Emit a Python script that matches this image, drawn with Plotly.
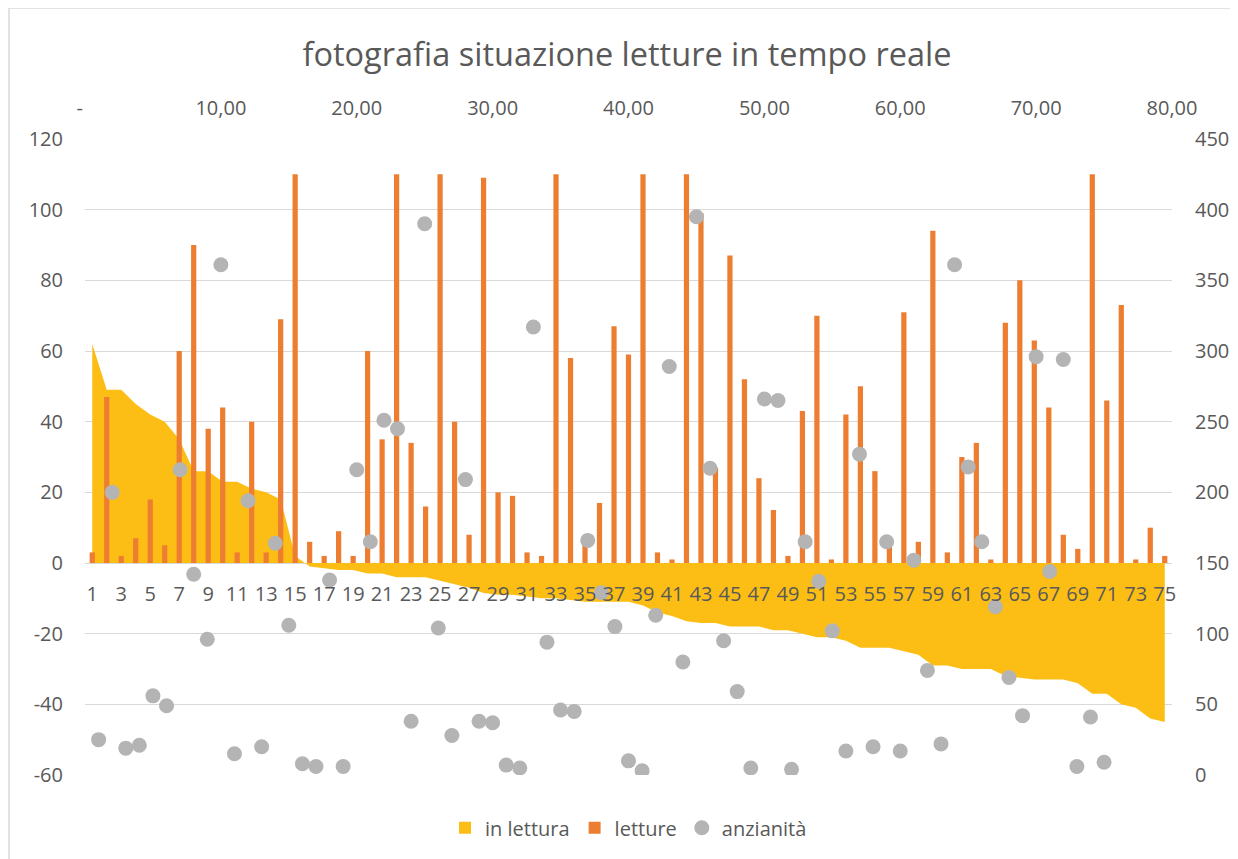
import plotly.graph_objects as go

categories = list(range(1, 76))

in_lettura = [62, 49, 49, 45, 42, 40, 35, 26, 26, 23, 23, 21, 20, 18, 2, -1, -1.5, -2, -2, -3,
              -3, -4, -4, -4, -5, -6, -7, -8.5, -9, -9, -9.5, -10, -10, -10.5, -11, -11, -11, -11, -12, -14,
              -15, -16.5, -17, -17, -18, -18, -18, -19, -19, -20, -21, -21, -22, -24, -24, -24, -25, -26, -29, -29,
              -30, -30, -30, -32, -32.5, -33, -33, -33, -34, -37, -37, -40, -41, -44, -45]

letture = [3, 47, 2, 7, 18, 5, 60, 90, 38, 44, 3, 40, 3, 69, 110, 6, 2, 9, 2, 60,
           35, 110, 34, 16, 110, 40, 8, 109, 20, 19, 3, 2, 110, 58, 6, 17, 67, 59, 110, 3,
           1, 110, 99, 27, 87, 52, 24, 15, 2, 43, 70, 1, 42, 50, 26, 6, 71, 6, 94, 3,
           30, 34, 1, 68, 80, 63, 44, 8, 4, 110, 46, 73, 1, 10, 2]

anz_x = list(range(1, 76))
anzianita = [25, 200, 19, 21, 56, 49, 216, 142, 96, 361, 15, 194, 20, 164, 106, 8, 6, 138, 6, 216,
             165, 251, 245, 38, 390, 104, 28, 209, 38, 37, 7, 5, 317, 94, 46, 45, 166, 129, 105, 10,
             3, 113, 289, 80, 395, 217, 95, 59, 5, 266, 265, 4, 165, 137, 102, 17, 227, 20, 165, 17,
             152, 74, 22, 361, 218, 165, 119, 69, 42, 296, 144, 294, 6, 41, 9]

cat_ticks = list(range(1, 76, 2))
top_ticks = [0, 10, 20, 30, 40, 50, 60, 70, 80]
top_labels = ["-\u00a0\u00a0", "10,00", "20,00", "30,00", "40,00", "50,00", "60,00", "70,00", "80,00"]
left_ticks = [-60, -40, -20, 0, 20, 40, 60, 80, 100, 120]
left_labels = ["-60", "-40", "-20", "0", "20", "40", "60", "80", "100", "120"]

FONT = "Open Sans"
GRAY = "#595959"
GRID = "#D9D9D9"
YELLOW = "#FCBE14"

fig = go.Figure()

# legend swatch for the area series (square, as in the original legend)
fig.add_trace(go.Bar(x=[None], y=[None], name="in lettura",
                     marker=dict(color=YELLOW, line=dict(width=0)),
                     xaxis="x", yaxis="y", showlegend=True))

fig.add_trace(go.Scatter(
    x=categories, y=in_lettura, name="in lettura", mode="lines",
    line=dict(width=0, color=YELLOW), fill="tozeroy", fillcolor=YELLOW,
    xaxis="x", yaxis="y", showlegend=False))

fig.add_trace(go.Bar(
    x=categories, y=letture, name="letture", width=0.36,
    marker=dict(color="#ED7D31", line=dict(width=0)),
    xaxis="x", yaxis="y2"))

fig.add_trace(go.Scatter(
    x=anz_x, y=anzianita, name="anzianità", mode="markers",
    marker=dict(size=15, color="#B4B4B4"),
    xaxis="x2", yaxis="y3"))

fig.update_layout(
    width=1238, height=859,
    margin=dict(l=77, r=74, t=131, b=92),
    paper_bgcolor="white", plot_bgcolor="white",
    font=dict(family=FONT, color=GRAY, size=20),
    title=dict(text="fotografia situazione letture in tempo reale",
               x=0.5, xanchor="center", y=1 - 47/859, yanchor="middle",
               font=dict(family=FONT, size=32.5, color=GRAY)),
    showlegend=True,
    barmode="overlay",
    legend=dict(orientation="h", x=0.5, xanchor="center", y=-0.083, yanchor="middle",
                font=dict(size=20, color=GRAY), traceorder="normal", itemwidth=30),
    xaxis=dict(range=[0.5, 75.5], tickmode="array", tickvals=cat_ticks,
               ticktext=[str(v) for v in cat_ticks],
               showgrid=False, zeroline=False, showline=False,
               anchor="free", position=1/3, ticks="", ticklabelstandoff=17,
               tickfont=dict(size=20, color=GRAY)),
    xaxis2=dict(range=[0, 80], tickmode="array", tickvals=top_ticks, ticktext=top_labels,
                overlaying="x", side="top", anchor="y3", showgrid=False, zeroline=False,
                showline=False, ticks="", ticklabelstandoff=19,
                tickfont=dict(size=20, color=GRAY)),
    yaxis=dict(range=[-60, 120], tickmode="array", tickvals=left_ticks, ticktext=left_labels,
               showgrid=True, gridcolor=GRID, gridwidth=1,
               zeroline=True, zerolinecolor=GRID, zerolinewidth=1, showline=False,
               ticks="", ticklabelstandoff=21, tickfont=dict(size=20, color=GRAY)),
    yaxis2=dict(range=[-60, 120], overlaying="y", visible=False, showgrid=False),
    yaxis3=dict(range=[0, 450], dtick=50, overlaying="y", side="right", anchor="x2",
                showgrid=False, zeroline=False, showline=False, ticks="",
                ticklabelstandoff=22, tickfont=dict(size=20, color=GRAY)),
)

fig.add_shape(type="line", xref="paper", yref="paper", x0=-76/1087, x1=1.2, y0=1+131/636, y1=1+131/636,
              line=dict(color=GRID, width=1.5))
fig.add_shape(type="line", xref="paper", yref="paper", x0=-76/1087, x1=-76/1087, y0=1+131/636, y1=-0.2,
              line=dict(color=GRID, width=1.5))

fig.write_html("out.html")
